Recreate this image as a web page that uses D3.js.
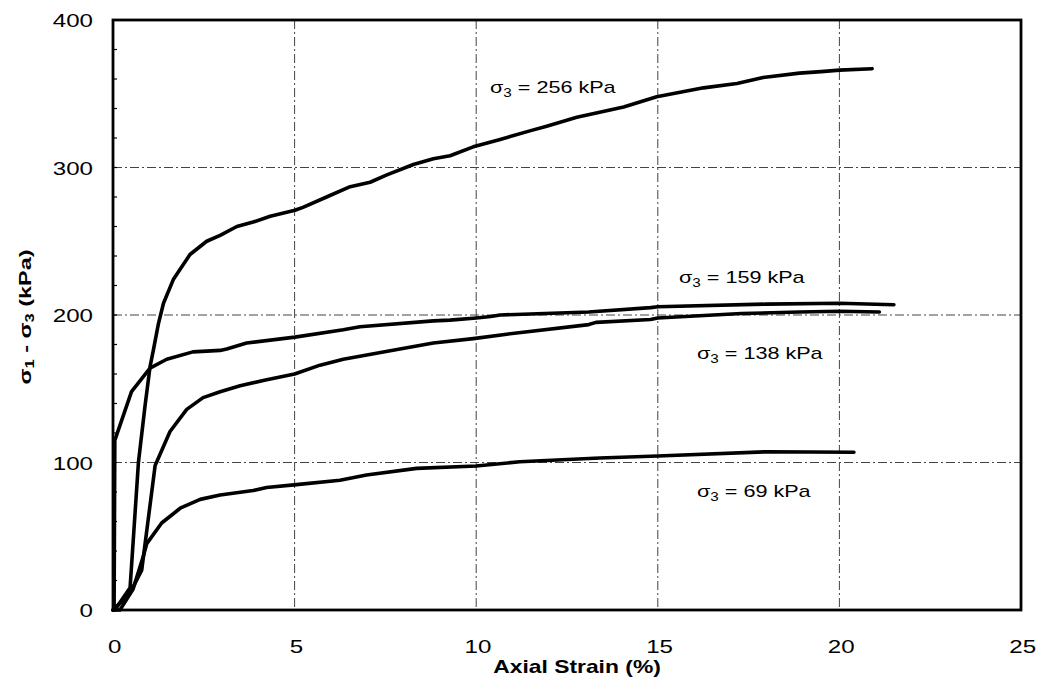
<!DOCTYPE html>
<html><head><meta charset="utf-8">
<script src="https://cdn.jsdelivr.net/npm/d3@7"></script>
<style>body{margin:0;background:#fff}svg{display:block}text{font-family:"Liberation Sans",Arial,sans-serif;fill:#000}</style>
</head><body><svg id="c" width="1040" height="698"></svg>
<script>
const xTicks=[0,5,10,15,20,25];
const yTicks=[0,100,200,300,400];
const s256=[[0,0],[0.05,0],[0.47,15],[0.70,100],[0.88,138],[1.02,165],[1.11,176],[1.25,194],[1.39,208],[1.66,224],[2.12,241],[2.58,250],[2.95,254],[3.41,260],[3.86,263],[4.33,267],[5.01,271],[5.23,273],[5.88,280],[6.53,287],[7.08,290],[7.54,295],[8.27,302],[8.82,306],[9.28,308],[9.92,314],[10.66,319],[11.5,325],[11.94,328],[12.77,334],[14.06,341],[14.97,348],[16.26,354],[17.18,357],[17.9,361],[18.9,364],[19.5,365],[20.0,366],[20.9,367]];
const s159=[[0.03,0],[0.05,115],[0.51,148],[1.02,164],[1.48,170],[2.2,175],[2.95,176],[3.13,177],[3.68,181],[5.01,185],[6.34,190],[6.8,192],[8.82,196],[9.28,196.5],[10.0,198],[10.4,199],[10.66,200],[13.1,202],[14.8,205],[15,205.6],[18,207.4],[20,208],[21.5,207]];
const s138=[[0,0],[0.47,11.5],[0.79,27],[1.16,98],[1.57,121],[2.03,136],[2.48,144],[2.95,148],[3.5,152],[4.2,156],[5,160],[5.7,166],[6.34,170],[7.9,177],[8.82,181],[9.92,184],[10.84,187],[13.1,193.5],[13.3,195],[14.8,197],[15,198],[17.3,201],[18.9,202],[20,202.5],[21.1,202]];
const s69=[[0,0],[0.19,0],[0.55,14],[0.83,36],[0.93,45],[1.34,59],[1.85,69],[2.4,75],[2.95,78],[3.86,81],[4.23,83],[5.05,85],[6.25,88],[6.98,91.5],[8.36,96],[10.0,97.6],[11.2,100.5],[13.4,103],[15,104.4],[18,107.3],[20.4,107]];
const seriesLabels=["256","159","138","69"];

const svg=d3.select("#c");
const L=113,R=1021,T=20,B=610;
const x=d3.scaleLinear().domain([0,25]).range([L,R]);
const y=d3.scaleLinear().domain([0,400]).range([B,T]);
const SX=1.27;

// gridlines
const grid=svg.append("g").attr("stroke","#444").attr("stroke-width",1).attr("stroke-dasharray","9,3,2,3");
grid.selectAll(".gx").data(xTicks.filter(d=>d>0&&d<25)).join("line")
  .attr("x1",d=>x(d)).attr("x2",d=>x(d)).attr("y1",T).attr("y2",B);
grid.selectAll(".gy").data(yTicks.filter(d=>d>0&&d<400)).join("line")
  .attr("x1",L).attr("x2",R).attr("y1",d=>y(d)).attr("y2",d=>y(d));

// minor ticks on left axis (inside)
svg.append("g").attr("stroke","#000").attr("stroke-width",1.2)
  .selectAll("line").data(d3.range(20,400,20)).join("line")
  .attr("x1",L).attr("x2",L+4).attr("y1",d=>y(d)).attr("y2",d=>y(d));

// axes with labels
const xa=svg.append("g").attr("transform",`translate(0,${B})`)
  .call(d3.axisBottom(x).tickValues(xTicks).tickSize(0).tickPadding(0).tickFormat(d3.format("d")));
xa.select(".domain").remove();
xa.selectAll("text").attr("y",43).attr("dy",null).attr("font-size",19).attr("font-family","Liberation Sans, Arial, sans-serif")
  .attr("transform",`scale(${SX},1)`).attr("x",1);
const ya=svg.append("g").attr("transform",`translate(${L},0)`)
  .call(d3.axisLeft(y).tickValues(yTicks).tickSize(0).tickPadding(0).tickFormat(d3.format("d")));
ya.select(".domain").remove();
ya.selectAll("text").attr("x",-20/SX).attr("dy","0.36em").attr("font-size",19).attr("font-family","Liberation Sans, Arial, sans-serif")
  .attr("transform",`scale(${SX},1)`);

// frame
svg.append("rect").attr("x",L).attr("y",T).attr("width",R-L).attr("height",B-T)
  .attr("fill","none").attr("stroke","#000").attr("stroke-width",2.8);

// curves
const line=d3.line().x(d=>x(d[0])).y(d=>y(d[1]));
svg.append("g").selectAll("path").data([s256,s159,s138,s69]).join("path")
  .attr("d",line).attr("fill","none").attr("stroke","#000").attr("stroke-width",3.6)
  .attr("stroke-linejoin","round").attr("stroke-linecap","round");

// annotations
function label(px,py,val){
  const t=svg.append("text").attr("transform",`translate(${px},${py}) scale(${SX},1)`).attr("font-size",17);
  t.append("tspan").text("σ");
  t.append("tspan").attr("font-size",12).attr("dy",4).text("3");
  t.append("tspan").attr("dy",-4).text(" = "+val+" kPa");
}
const labelPos=[[490,93],[679,283],[697,359],[697,497]];
seriesLabels.forEach((v,i)=>label(labelPos[i][0],labelPos[i][1],v));

// axis titles
svg.append("text").attr("transform",`translate(${(L+R)/2+10},673) scale(${SX},1)`)
  .attr("text-anchor","middle").attr("font-size",18).attr("font-weight","bold").text("Axial Strain (%)");
const yt=svg.append("text").attr("transform","translate(31,317) rotate(-90)")
  .attr("text-anchor","middle").attr("font-size",17).attr("font-weight","bold")
  .attr("textLength",135).attr("lengthAdjust","spacingAndGlyphs");
yt.append("tspan").text("σ");
yt.append("tspan").attr("font-size",12).attr("dy",3).text("1");
yt.append("tspan").attr("dy",-3).text(" - σ");
yt.append("tspan").attr("font-size",12).attr("dy",3).text("3");
yt.append("tspan").attr("dy",-3).text(" (kPa)");
</script></body></html>
